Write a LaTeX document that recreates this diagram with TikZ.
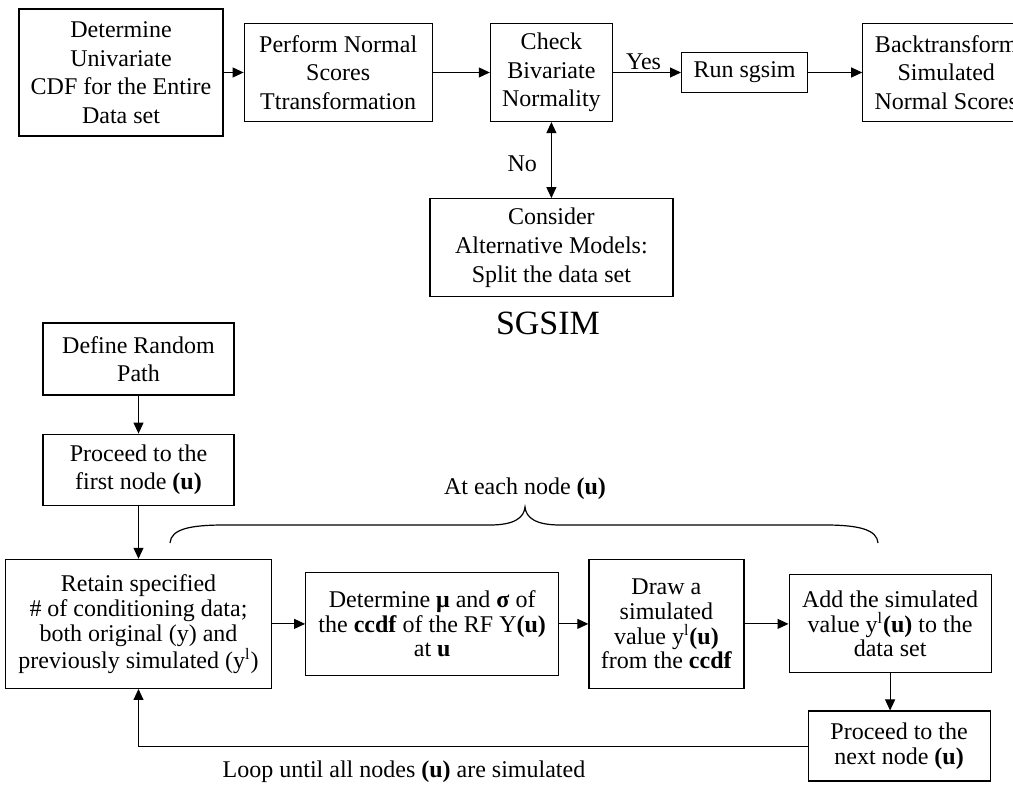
\documentclass[tikz,border=0pt]{standalone}
\usepackage{fontspec}
\setmainfont{Liberation Serif}
\usetikzlibrary{arrows.meta, positioning}

\begin{document}
\begin{tikzpicture}[
    x=0.5pt, y=-0.5pt,
    node distance=10pt and 10pt,
    arr/.style={-{Triangle[length=5.5pt, width=5pt]}, line width=0.5pt},
    box/.style={draw, line width=0.6pt, align=center, inner sep=2pt,
        font=\fontsize{12}{14.3}\selectfont},
    tbox/.style={box, font=\fontsize{12}{12.4}\selectfont},
    lbl/.style={font=\fontsize{12}{14}\selectfont, inner sep=1pt},
]

    \useasboundingbox (0,0) rectangle (1013,790);

    % top row
    \node[box, minimum width=102pt, minimum height=63.5pt] (CDF) at (121,72.5)
        {Determine\\Univariate\\CDF for the Entire\\Data set};
    \node[box, right=10pt of CDF, minimum width=94pt, minimum height=49pt] (NS)
        {Perform Normal\\Scores\\Ttransformation};
    \node[box, right=28.5pt of NS, minimum width=61pt, minimum height=49pt] (CHK)
        {Check\\Bivariate\\Normality};
    \node[box, right=34pt of CHK, minimum width=63pt, minimum height=20pt] (RUN)
        {Run sgsim};
    \node[box, right=27pt of RUN, minimum width=83.5pt, minimum height=49pt] (BT)
        {Backtransform\\Simulated\\Normal Scores};

    \node[box, below=38pt of CHK, minimum width=121.5pt, minimum height=49pt] (ALT)
        {Consider\\Alternative Models:\\Split the data set};

    \node[font=\fontsize{17}{20}\selectfont, inner sep=0pt] (SG) at (548,323) {SGSIM};

    \draw[arr] (CDF) -- (NS);
    \draw[arr] (NS) -- (CHK);
    \draw[arr] (CHK) -- node[lbl, above, pos=0.45] {Yes} (RUN);
    \draw[arr] (RUN) -- (BT);
    \draw[arr, {Triangle[length=5.5pt, width=5pt]}-{Triangle[length=5.5pt, width=5pt]}]
        (CHK) -- node[lbl, left, pos=0.55, inner sep=7pt] {No} (ALT);

    % sgsim loop
    \node[box, minimum width=95.5pt, minimum height=36pt] (PATH) at (138.5,359)
        {Define Random\\Path};
    \node[box, below=19pt of PATH, minimum width=95.5pt, minimum height=35.5pt] (FIRST)
        {Proceed to the\\first node \textbf{(u)}};
    \node[tbox, below=26.5pt of FIRST, minimum width=133pt, minimum height=64.5pt] (RET)
        {Retain specified\\\# of conditioning data;\\both original (y) and\\previously simulated (y\textsuperscript{l})};
    \node[tbox, right=16.5pt of RET, minimum width=126.5pt, minimum height=51.5pt] (CCDF)
        {Determine \textbf{μ} and \textbf{σ} of\\the \textbf{ccdf} of the RF Y\textbf{(u)}\\at \textbf{u}};
    \node[tbox, right=14.5pt of CCDF, minimum width=77.5pt, minimum height=64.5pt] (DRAW)
        {Draw a\\simulated\\value y\textsuperscript{l}\textbf{(u)}\\from the \textbf{ccdf}};
    \node[tbox, right=22pt of DRAW, minimum width=101pt, minimum height=49pt] (ADD)
        {Add the simulated\\value y\textsuperscript{l}\textbf{(u)} to the\\data set};
    \node[tbox, below=18.5pt of ADD, xshift=4.5pt, minimum width=91pt, minimum height=35pt] (NEXT)
        {Proceed to the\\next node \textbf{(u)}};

    \draw[arr] (PATH) -- (FIRST);
    \draw[arr] (FIRST) -- (RET);
    \draw[arr] (RET) -- (CCDF);
    \draw[arr] (CCDF) -- (DRAW);
    \draw[arr] (DRAW) -- (ADD);
    \draw[arr] (ADD.south) -- (ADD.south |- NEXT.north);
    \draw[arr] (NEXT.west) -| (RET.south);

    \node[lbl] (LOOP) at (404,772) {Loop until all nodes \textbf{(u)} are simulated};

    % brace over the loop
    \draw[line width=0.6pt] (170,543) .. controls (171,529) and (190,525) .. (225,525)
        -- (490,525) .. controls (514,525) and (524,518) .. (525,507)
        .. controls (526,518) and (536,525) .. (560,525)
        -- (825,525) .. controls (860,525) and (877,530) .. (878,543);
    \node[lbl] (EACH) at (525,489) {At each node \textbf{(u)}};

\end{tikzpicture}
\end{document}
